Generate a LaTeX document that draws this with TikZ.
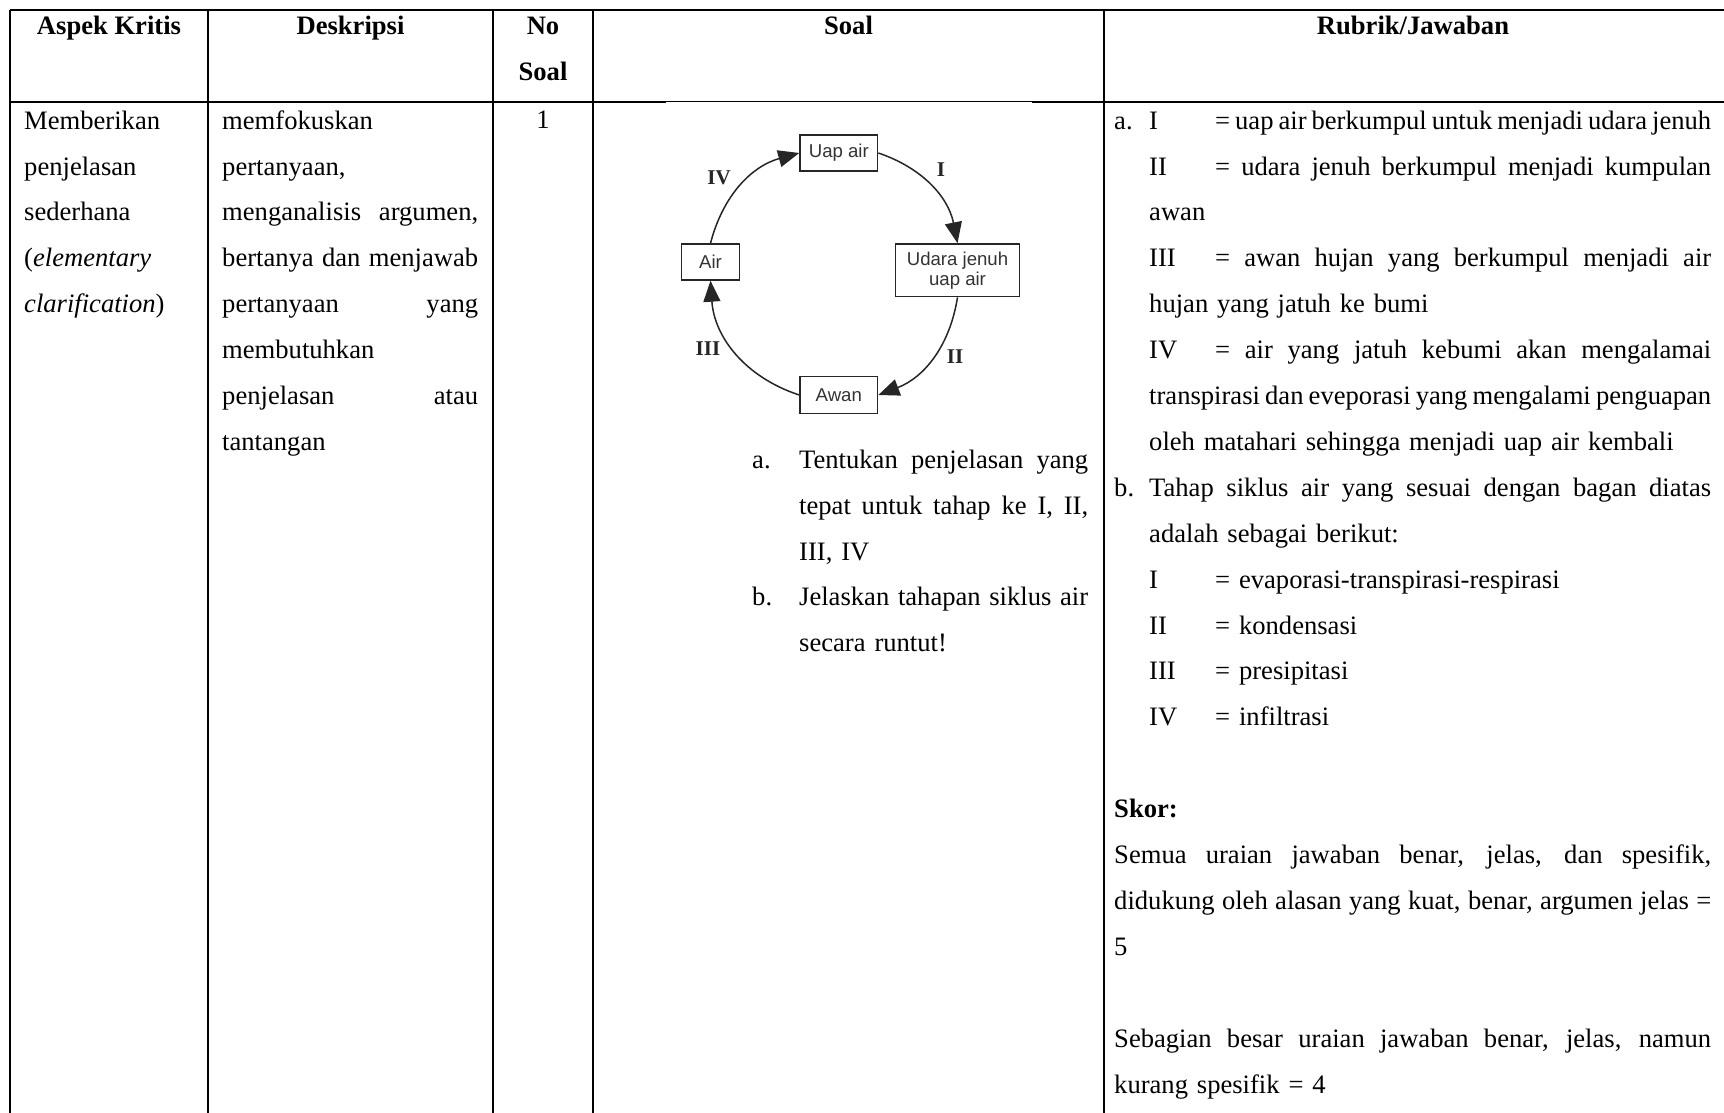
\documentclass[tikz,border=0pt]{standalone}
\usepackage{fontspec}
\setmainfont{Liberation Serif}
\setsansfont{Liberation Sans}
\usetikzlibrary{arrows.meta}
\setlength{\parindent}{0pt}

\newcommand{\cellfont}{\fontsize{26.6pt}{45.9pt}\selectfont}
\newcommand{\stagefont}{\sffamily\fontsize{18.6pt}{20pt}\selectfont}
\newcommand{\romfont}{\bfseries\fontsize{21pt}{24pt}\selectfont}
\newcommand{\firstline}{\rule{0pt}{30pt}}
\newcommand{\jl}[2]{\leavevmode\hbox to #1{\spaceskip=0.25em plus 2em minus 0.1em\relax #2}}
\newcommand{\lbox}[2]{\makebox[#1][l]{#2}}

\begin{document}
\begin{tikzpicture}[x=1pt, y=-1pt,
  tbl/.style={line width=2.2pt},
  cell/.style={anchor = north west, inner sep=0pt, align=left, font=\cellfont},
  head/.style={anchor = base, inner sep=0pt, font=\cellfont\bfseries},
  stage/.style={draw=black!85, line width=1.4pt, text=black!80, inner sep=0pt, font=\stagefont, align=center, minimum height=36pt},
  cyc/.style={line width=1.5pt, draw=black!85, -{Triangle[length=21pt, width=17pt]}},
  rom/.style={inner sep=0pt, font=\romfont, text=black!85}]
\useasboundingbox (0,0) rectangle (1724,1113);

\draw[tbl] (10,10)--(1724,10);
\draw[tbl] (10,102)--(666,102);
\draw[line width=1pt] (666,102)--(1032,102);
\draw[tbl] (1032,102)--(1724,102);
\foreach \cx in {10,208,493,593,1104}
  \draw[tbl] (\cx,10)--(\cx,1113);

\node[head] (aspek) at (109,35) {Aspek Kritis};
\node[head] (deskripsi) at (350.5,35) {Deskripsi};
\node[head] (nosoal) at (543,35) {No};
\node[head] (nosoalb) at (543,81) {Soal};
\node[head] (soal) at (848.5,35) {Soal};
\node[head] (rubrik) at (1413,35) {Rubrik/Jawaban};

\node[cell, text width=170pt] (aspekcell) at (24,99) {\firstline Memberikan\\
penjelasan\\
sederhana\\
(\textit{elementary}\\
\textit{clarification})};

\node[cell, text width=256pt] (deskcell) at (222,99) {\firstline memfokuskan\\
pertanyaan,\\
\jl{256pt}{menganalisis argumen,}\\
\jl{256pt}{bertanya dan menjawab}\\
\jl{256pt}{pertanyaan yang}\\
membutuhkan\\
\jl{256pt}{penjelasan atau}\\
tantangan};

\node[anchor = base, inner sep=0pt, font=\cellfont] (nocell) at (543,129) {1};

\node[stage, minimum width=77.7pt] (uap) at (838.8,153) {Uap air};
\node[stage, minimum width=123.6pt, minimum height=52.7pt] (udara) at (957.5,270.3) {Udara jenuh\\uap air};
\node[stage, minimum width=77.7pt, minimum height=36.6pt] (awan) at (838.8,395) {Awan};
\node[stage, minimum width=57.6pt] (air) at (710.5,262) {Air};
\draw[cyc] (uap.east) to[bend left=30] (udara.north);
\draw[cyc] (udara.south) to[bend left=30] (awan.east);
\draw[cyc] (awan.west) to[bend left=34] (air.south);
\draw[cyc] (air.north) to[bend left=30] (uap.west);
\node[rom] (tahapI) at (941,170) {I};
\node[rom] (tahapII) at (955,357) {II};
\node[rom] (tahapIII) at (708,349) {III};
\node[rom] (tahapIV) at (719,178) {IV};

\node[cell, text width=336pt] (soalcell) at (752,438) {\firstline\lbox{47pt}{a.}\jl{289pt}{Tentukan penjelasan yang}\\
\hspace*{47pt}\jl{289pt}{tepat untuk tahap ke I, II,}\\
\hspace*{47pt}III, IV\\
\lbox{47pt}{b.}\jl{289pt}{Jelaskan tahapan siklus air}\\
\hspace*{47pt}secara runtut!};

\node[cell, text width=597pt] (rubrikcell) at (1114,99) {\firstline\lbox{35pt}{a.}\lbox{66pt}{I}\jl{496pt}{= uap air berkumpul untuk menjadi udara jenuh}\\
\hspace*{35pt}\lbox{66pt}{II}\jl{496pt}{= udara jenuh berkumpul menjadi kumpulan}\\
\hspace*{35pt}awan\\
\hspace*{35pt}\lbox{66pt}{III}\jl{496pt}{= awan hujan yang berkumpul menjadi air}\\
\hspace*{35pt}hujan yang jatuh ke bumi\\
\hspace*{35pt}\lbox{66pt}{IV}\jl{496pt}{= air yang jatuh kebumi akan mengalamai}\\
\hspace*{35pt}\jl{562pt}{transpirasi dan eveporasi yang mengalami penguapan}\\
\hspace*{35pt}oleh matahari sehingga menjadi uap air kembali\\
\lbox{35pt}{b.}\jl{562pt}{Tahap siklus air yang sesuai dengan bagan diatas}\\
\hspace*{35pt}adalah sebagai berikut:\\
\hspace*{35pt}\lbox{66pt}{I}= evaporasi-transpirasi-respirasi\\
\hspace*{35pt}\lbox{66pt}{II}= kondensasi\\
\hspace*{35pt}\lbox{66pt}{III}= presipitasi\\
\hspace*{35pt}\lbox{66pt}{IV}= infiltrasi\\
\mbox{}\\
\textbf{Skor:}\\
\jl{597pt}{Semua uraian jawaban benar, jelas, dan spesifik,}\\
\jl{597pt}{didukung oleh alasan yang kuat, benar, argumen jelas =}\\
5\\
\mbox{}\\
\jl{597pt}{Sebagian besar uraian jawaban benar, jelas, namun}\\
kurang spesifik = 4};
\end{tikzpicture}
\end{document}
